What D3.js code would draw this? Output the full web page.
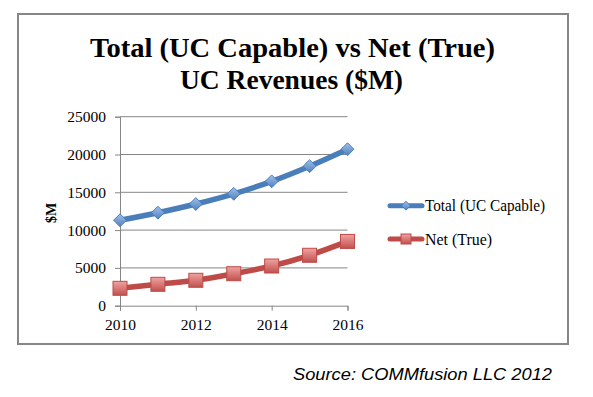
<!DOCTYPE html>
<html><head><meta charset="utf-8">
<script src="https://cdn.jsdelivr.net/npm/d3@7"></script>
<style>body{margin:0;background:#fff}</style>
</head><body>
<script>
const years = [2010, 2011, 2012, 2013, 2014, 2015, 2016];
const totalValues = [11300, 12300, 13450, 14800, 16450, 18450, 20700];
const netValues = [2300, 2830, 3360, 4230, 5250, 6670, 8500];
const yTicks = [0, 5000, 10000, 15000, 20000, 25000];
const xTickYears = [2010, 2012, 2014, 2016];
const seriesNames = ["Total (UC Capable)", "Net (True)"];

const W = 593, H = 397;
const svg = d3.select("body").append("svg").attr("width", W).attr("height", H);
const defs = svg.append("defs");
function grad(id, c1, c2){
  const g = defs.append("linearGradient").attr("id", id).attr("x1",0).attr("y1",0).attr("x2",0).attr("y2",1);
  g.append("stop").attr("offset","0%").attr("stop-color",c1);
  g.append("stop").attr("offset","100%").attr("stop-color",c2);
}
grad("gb", "#9fc0ec", "#4f81bd");
grad("gr", "#f0a3a1", "#c0504d");

// outer frame
svg.append("rect").attr("x",18).attr("y",14).attr("width",550).attr("height",330)
  .attr("fill","none").attr("stroke","#868686").attr("stroke-width",2);

const serif = "'Liberation Serif', 'DejaVu Serif', serif";
// title
const title = svg.append("text").attr("text-anchor","middle").attr("font-family",serif)
  .attr("font-weight","bold").attr("font-size",28).attr("fill","#000");
title.append("tspan").attr("x",292.5).attr("y",56.5).attr("textLength",405).attr("lengthAdjust","spacingAndGlyphs")
  .text("Total (UC Capable) vs Net (True)");
title.append("tspan").attr("x",291.5).attr("y",88.5).attr("textLength",223).attr("lengthAdjust","spacingAndGlyphs")
  .text("UC Revenues ($M)");

const x = d3.scaleLinear().domain([2010, 2016]).range([120, 347.5]);
const y = d3.scaleLinear().domain([0, 25000]).range([305.7, 116.7]);

// gridlines
svg.append("g").selectAll("line").data(yTicks.filter(d=>d>0)).join("line")
  .attr("x1",120).attr("x2",347.5).attr("y1",d=>y(d)).attr("y2",d=>y(d))
  .attr("stroke","#868686").attr("stroke-width",1);

// y axis
const yAxis = svg.append("g").attr("transform","translate(120,0)")
  .call(d3.axisLeft(y).tickValues(yTicks).tickSize(5).tickPadding(9).tickFormat(d3.format("d")));
yAxis.select(".domain").attr("stroke","#868686");
yAxis.selectAll(".tick line").attr("stroke","#868686");
yAxis.selectAll("text").attr("font-family",serif).attr("font-size",15.5).attr("fill","#000");

// x axis
const xAxis = svg.append("g").attr("transform",`translate(0,${y(0)})`)
  .call(d3.axisBottom(x).tickValues(xTickYears).tickSize(5).tickPadding(8).tickFormat(d3.format("d")));
xAxis.select(".domain").attr("stroke","#868686");
xAxis.selectAll(".tick line").attr("stroke","#868686");
xAxis.selectAll("text").attr("font-family",serif).attr("font-size",15.5).attr("fill","#000");

// y label
svg.append("text").attr("transform","translate(56,213) rotate(-90)").attr("text-anchor","middle")
  .attr("font-family",serif).attr("font-weight","bold").attr("font-size",14).text("$M");

const line = d3.line().x((d,i)=>x(years[i])).y(d=>y(d)).curve(d3.curveMonotoneX);

// total series
svg.append("path").datum(totalValues).attr("d",line).attr("fill","none")
  .attr("stroke","#4a7ebb").attr("stroke-width",5.5).attr("stroke-linecap","round");
svg.append("g").selectAll("path").data(totalValues).join("path")
  .attr("transform",(d,i)=>`translate(${x(years[i])},${y(d)})`)
  .attr("d", d3.symbol(d3.symbolDiamond2 || d3.symbolDiamond, 105)())
  .attr("fill","url(#gb)").attr("stroke","#4a7ebb").attr("stroke-width",1);

// net series
svg.append("path").datum(netValues).attr("d",line).attr("fill","none")
  .attr("stroke","#be4b48").attr("stroke-width",5.5).attr("stroke-linecap","round");
svg.append("g").selectAll("rect").data(netValues).join("rect")
  .attr("x",(d,i)=>x(years[i])-7).attr("y",d=>y(d)-7).attr("width",14).attr("height",14)
  .attr("fill","url(#gr)").attr("stroke","#be4b48").attr("stroke-width",1);

// legend
const leg = [
  {name: seriesNames[0], color:"#4a7ebb", fill:"url(#gb)", ly:205.7, shape:"diamond", len:120},
  {name: seriesNames[1], color:"#be4b48", fill:"url(#gr)", ly:239, shape:"square", len:67}
];
leg.forEach(l=>{
  svg.append("line").attr("x1",390).attr("x2",422).attr("y1",l.ly).attr("y2",l.ly)
    .attr("stroke",l.color).attr("stroke-width",5).attr("stroke-linecap","round");
  if (l.shape==="diamond") {
    svg.append("path").attr("transform",`translate(406,${l.ly})`)
      .attr("d", d3.symbol(d3.symbolDiamond2 || d3.symbolDiamond, 50)()).attr("fill",l.fill).attr("stroke",l.color);
  } else {
    svg.append("rect").attr("x",401).attr("y",l.ly-5).attr("width",10).attr("height",10)
      .attr("fill",l.fill).attr("stroke",l.color);
  }
  svg.append("text").attr("x",425).attr("y",l.ly+5.5).attr("font-family",serif).attr("font-size",16)
    .attr("textLength",l.len).attr("lengthAdjust","spacingAndGlyphs")
    .attr("fill","#000").text(l.name);
});

// source
svg.append("text").attr("x",293).attr("y",380).attr("font-family","'Liberation Sans', Arial, sans-serif")
  .attr("font-style","italic").attr("font-size",16.5).attr("textLength",259).attr("lengthAdjust","spacingAndGlyphs")
  .attr("fill","#000").text("Source: COMMfusion LLC 2012");
</script>
</body></html>
